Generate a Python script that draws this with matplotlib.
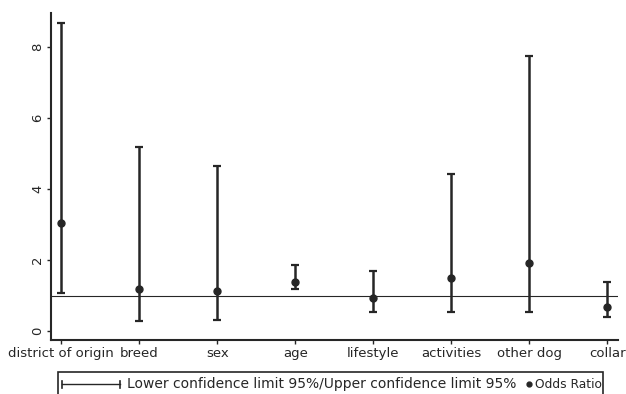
import numpy as np
import matplotlib
matplotlib.use("Agg")
import matplotlib.pyplot as plt
from matplotlib.patches import Rectangle
from matplotlib.lines import Line2D

categories = ["district of origin", "breed", "sex", "age", "lifestyle",
              "activities", "other dog", "collar"]
odds_ratio = [3.04, 1.18, 1.13, 1.38, 0.93, 1.49, 1.92, 0.68]
lower_ci = [1.07, 0.28, 0.31, 1.18, 0.53, 0.54, 0.54, 0.39]
upper_ci = [8.68, 5.18, 4.65, 1.86, 1.69, 4.42, 7.75, 1.38]
yticks = [0, 2, 4, 6, 8]
legend_labels = ["Lower confidence limit 95%/Upper confidence limit 95%", "Odds Ratio"]

col = "#262626"
plt.rcParams['font.family'] = ['DejaVu Sans']

W, H = 626, 394
fig = plt.figure(figsize=(W / 100, H / 100), dpi=100)
ax = fig.add_axes([0.0815, 0.137, 0.905, 0.83])

x = np.arange(len(categories))
orr = np.array(odds_ratio)
lo = np.array(lower_ci)
hi = np.array(upper_ci)

ax.axhline(1, color=col, lw=0.8, zorder=1)
ax.errorbar(x, (lo + hi) / 2, yerr=[(hi - lo) / 2, (hi - lo) / 2], fmt='none',
            ecolor=col, elinewidth=1.8, capsize=2.8, capthick=1.6, zorder=2)
ax.plot(x, orr, 'o', color=col, ms=5, zorder=3)

ax.set_xlim(-0.13, 7.13)
ax.set_ylim(-0.25, 8.96)
ax.set_xticks(x)
ax.set_xticklabels(categories, fontsize=9.5)
ax.set_yticks(yticks)
ax.set_yticklabels([str(t) for t in yticks], rotation=90, va='center', fontsize=9.5)
for s in ['top', 'right']:
    ax.spines[s].set_visible(False)
for s in ['left', 'bottom']:
    ax.spines[s].set_color(col)
    ax.spines[s].set_linewidth(1.5)
ax.tick_params(colors=col, length=3, width=1, pad=2)

# legend box drawn in figure pixel coordinates
def fx(px):
    return px / W

def fy(py):
    return 1 - py / H

fig.add_artist(Rectangle((fx(58), fy(398)), fx(603) - fx(58), fy(372) - fy(398),
                         transform=fig.transFigure, fill=False, edgecolor=col,
                         lw=1.2, clip_on=False))
yl = fy(384)
fig.add_artist(Line2D([fx(62), fx(120)], [yl, yl], transform=fig.transFigure,
                      color=col, lw=1))
for px in (62, 120):
    fig.add_artist(Line2D([fx(px), fx(px)], [fy(380.5), fy(387.5)],
                          transform=fig.transFigure, color=col, lw=1.2))
fig.text(fx(127), yl, legend_labels[0], fontsize=10, va='center', ha='left', color=col)
fig.add_artist(Line2D([fx(529)], [yl], transform=fig.transFigure, marker='o',
                      ms=3.5, color=col, ls='none'))
fig.text(fx(535), yl, legend_labels[1], fontsize=8.8, va='center', ha='left', color=col)

fig.savefig("out.png", dpi=100)
